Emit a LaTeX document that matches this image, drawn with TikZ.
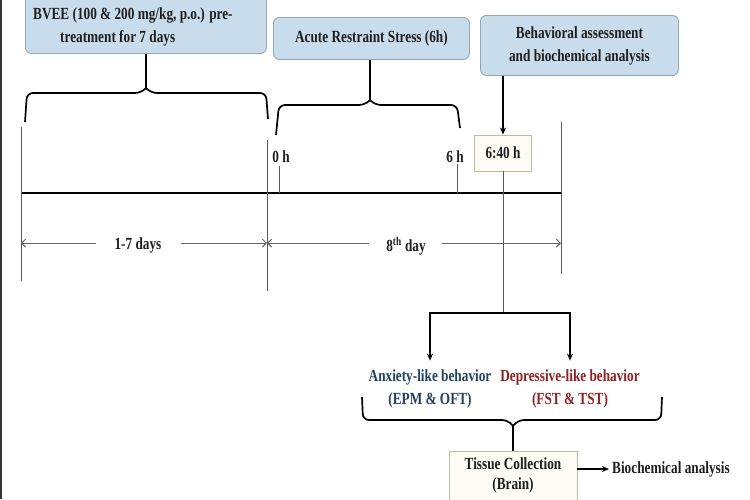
\documentclass[tikz,border=0pt]{standalone}
\usepackage{fontspec}
\setmainfont{Liberation Serif}[FakeStretch=0.78]
\usetikzlibrary{arrows.meta}
\definecolor{boxfill}{HTML}{C9DCEB}
\definecolor{boxline}{HTML}{93A6B8}
\definecolor{txt}{HTML}{1E1E1E}
\definecolor{anxc}{HTML}{23405E}
\definecolor{depc}{HTML}{8E1F22}
\definecolor{paleline}{HTML}{B9BC9E}
\definecolor{palefill}{HTML}{FCFCF4}
\tikzset{
  bluebox/.style={draw=boxline, fill=boxfill, rounded corners=6pt, line width=0.9pt},
  palebox/.style={draw=paleline, fill=palefill, line width=0.9pt},
  lbl/.style={font=\bfseries\fontsize{17}{23}\selectfont, text=txt, inner sep=0pt},
  bracepath/.style={line width=1.7pt, rounded corners=6pt},
  guide/.style={draw=black!65, line width=0.7pt},
  dimarrow/.style={draw=black!60, line width=0.9pt},
  blackarrow/.style={line width=1.3pt, -{Stealth[length=7pt,width=6pt]}},
  barb/.tip={Straight Barb[length=4pt,width=8pt]},
}
\begin{document}
\begin{tikzpicture}[x=1pt,y=-1pt]
\useasboundingbox (0,0) rectangle (750,499);
\clip (0,0) rectangle (750,499);
\fill[white] (0,0) rectangle (750,499);
% left border
\draw[line width=2pt, black!80] (1,0) -- (1,499);

% top boxes
\node[bluebox, anchor=north west, minimum width=241pt, minimum height=63pt] (bvee) at (25,-10) {};
\node[lbl, anchor=west, align=left] (bveetxt) at (33,27) {BVEE (100 \& 200 mg/kg, p.o.) pre-\\\hspace*{27pt}treatment for 7 days};
\node[bluebox, anchor=north west, minimum width=196pt, minimum height=42pt] (ars) at (273,17) {};
\node[lbl] (arstxt) at (ars.center) {Acute Restraint Stress (6h)};
\node[bluebox, anchor=north west, minimum width=198pt, minimum height=60pt, align=center, lbl, inner sep=0pt] (behav) at (480,15) {Behavioral assessment\\and biochemical analysis};

% braces
\coordinate (b1tip) at (146,88);
\draw[bracepath] (25,122) -- (27,93) -- (141,93) -- (b1tip);
\draw[bracepath] (268,119) -- (266,93) -- (151,93) -- (b1tip);
\draw[line width=1.7pt] (bvee.south -| b1tip) -- (b1tip);
\coordinate (b2tip) at (370,100);
\draw[bracepath] (276,135) -- (279,105) -- (365,105) -- (b2tip);
\draw[bracepath] (460,128) -- (457,105) -- (375,105) -- (b2tip);
\draw[line width=1.7pt] (ars.south -| b2tip) -- (b2tip);

% timeline
\coordinate (tlA) at (21,193);
\coordinate (tlB) at (561,193);
\draw[line width=1.5pt] (tlA) -- (tlB);
\draw[guide] (21,127) -- (21,281);
\draw[guide] (267,140) -- (267,291);
\draw[guide] (279,166) -- (279,193);
\draw[guide] (457,164) -- (457,193);
\draw[guide] (561,122) -- (561,274);
\node[lbl] (zeroh) at (281,157) {0 h};
\node[lbl] (sixh) at (455,157) {6 h};
\node[palebox, minimum width=57pt, minimum height=36pt, lbl, inner sep=0pt] (t640) at (503,153) {6:40 h};
\draw[blackarrow] (t640.north |- behav.south) -- (t640.north);

% day arrows
\node[lbl] (days17) at (138,245) {1-7 days};
\node[lbl] (day8) at (406,246) {8\textsuperscript{th} day};
\draw[dimarrow, barb-] (21,243) -- (96,243);
\draw[dimarrow, -barb] (181,243) -- (267,243);
\draw[dimarrow, barb-] (267,243) -- (369,243);
\draw[dimarrow, -barb] (442,243) -- (561,243);

% behaviour branch
\coordinate (split) at (503,313);
\draw[guide] (t640.south) -- (split);
\node[lbl, align=center, text=anxc] (anx) at (430,389) {Anxiety-like behavior\\(EPM \& OFT)};
\node[lbl, align=center, text=depc] (dep) at (570,389) {Depressive-like behavior\\(FST \& TST)};
\draw[blackarrow, shorten >=9pt] (split) -| (anx.north);
\draw[blackarrow, shorten >=9pt] (split) -| (dep.north);

% bottom brace
\coordinate (b3tip) at (513,426);
\draw[bracepath] (362,397) -- (363,420) -- (508,420) -- (b3tip);
\draw[bracepath] (662,397) -- (661,420) -- (518,420) -- (b3tip);
\node[palebox, anchor=north, minimum width=128pt, minimum height=62pt] (tissue) at (513,451) {};
\node[lbl, align=center, font=\bfseries\fontsize{17}{20}\selectfont] (tissuetxt) at (513,475) {Tissue Collection\\(Brain)};
\draw[line width=1.7pt] (b3tip) -- (tissue.north);
\node[lbl, anchor=west] (bio) at (612,469) {Biochemical analysis};
\draw[blackarrow] (tissue.east |- bio.west) -- ([xshift=-3pt]bio.west);
\end{tikzpicture}
\end{document}
